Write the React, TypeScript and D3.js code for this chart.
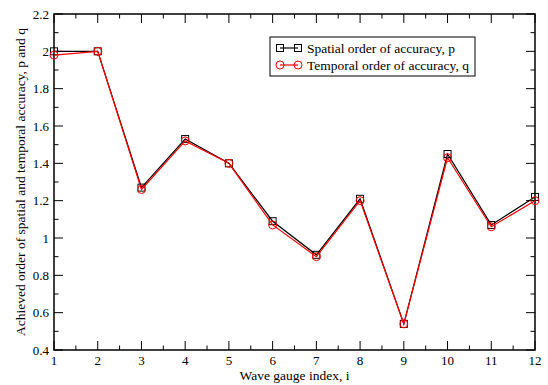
import { useEffect, useRef } from 'react';
import * as d3 from 'd3';

const GAUGES = [1, 2, 3, 4, 5, 6, 7, 8, 9, 10, 11, 12];
const SPATIAL_P = [2.0, 2.0, 1.27, 1.53, 1.40, 1.09, 0.91, 1.21, 0.54, 1.45, 1.07, 1.22];
const TEMPORAL_Q = [1.98, 2.0, 1.26, 1.52, 1.40, 1.07, 0.90, 1.20, 0.54, 1.43, 1.06, 1.20];
const Y_TICKS = [0.4, 0.6, 0.8, 1, 1.2, 1.4, 1.6, 1.8, 2, 2.2];

const W = 548;
const H = 385;
const M = { left: 54, top: 14, right: 13, bottom: 35 };
const FONT = 'Liberation Serif, Times New Roman, serif';

export default function App() {
  const svgRef = useRef<SVGSVGElement>(null);

  useEffect(() => {
    if (!svgRef.current) return;
    const svg = d3.select(svgRef.current);
    svg.selectAll('*').remove();

    const x = d3.scaleLinear().domain([1, 12]).range([M.left, W - M.right]);
    const y = d3.scaleLinear().domain([0.4, 2.2]).range([H - M.bottom, M.top]);
    const [x0, x1] = x.range();
    const [y0, y1] = y.range();

    const g = svg.append('g').style('font-family', FONT);

    // inward ticks on all four sides
    const majX = d3.range(1, 12.01, 1);
    const minX = d3.range(1.5, 12, 1);
    const majY = Y_TICKS;
    const minY = d3.range(0.5, 2.2, 0.2);
    const ticks = g.append('g').attr('stroke', '#000').attr('stroke-width', 1);
    const tx = (v: number, len: number) => {
      ticks.append('line').attr('x1', x(v)).attr('x2', x(v)).attr('y1', y0).attr('y2', y0 - len);
      ticks.append('line').attr('x1', x(v)).attr('x2', x(v)).attr('y1', y1).attr('y2', y1 + len);
    };
    const ty = (v: number, len: number) => {
      ticks.append('line').attr('y1', y(v)).attr('y2', y(v)).attr('x1', x0).attr('x2', x0 + len);
      ticks.append('line').attr('y1', y(v)).attr('y2', y(v)).attr('x1', x1).attr('x2', x1 - len);
    };
    majX.forEach(v => tx(v, 9));
    minX.forEach(v => tx(v, 4.5));
    majY.forEach(v => ty(v, 9));
    minY.forEach(v => ty(v, 4.5));

    g.append('rect')
      .attr('x', x0).attr('y', y1)
      .attr('width', x1 - x0).attr('height', y0 - y1)
      .attr('fill', 'none').attr('stroke', '#000').attr('stroke-width', 1.5);

    // tick labels
    g.append('g').selectAll('text').data(majX).join('text')
      .attr('x', d => x(d)).attr('y', y0 + 14.5)
      .attr('text-anchor', 'middle')
      .attr('font-size', 13)
      .text(d => d3.format('d')(d));

    g.append('g').selectAll('text').data(majY).join('text')
      .attr('x', x0 - 5).attr('y', d => y(d) + 4.7)
      .attr('text-anchor', 'end')
      .attr('font-size', 13)
      .text(d => String(+d.toFixed(1)));

    // axis titles
    g.append('text')
      .attr('x', (x0 + x1) / 2).attr('y', H - 5)
      .attr('text-anchor', 'middle')
      .attr('font-size', 13.5)
      .text('Wave gauge index, i');

    g.append('text')
      .attr('transform', `translate(25,${(y0 + y1) / 2}) rotate(-90)`)
      .attr('text-anchor', 'middle')
      .attr('font-size', 13.5)
      .text('Achieved order of spatial and temporal accuracy, p and q');

    const line = d3.line<number>().x((_, i) => x(GAUGES[i])).y(d => y(d));

    const series = [
      { values: SPATIAL_P, color: '#000', shape: 'square', label: 'Spatial order of accuracy, p' },
      { values: TEMPORAL_Q, color: '#ff0000', shape: 'circle', label: 'Temporal order of accuracy, q' },
    ];

    const marker = (sel: d3.Selection<SVGGElement, unknown, null, undefined>, cx: number, cy: number, shape: string, color: string) => {
      if (shape === 'square') {
        sel.append('rect').attr('x', cx - 3.5).attr('y', cy - 3.5).attr('width', 7).attr('height', 7)
          .attr('fill', 'none').attr('stroke', color).attr('stroke-width', 1);
      } else {
        sel.append('circle').attr('cx', cx).attr('cy', cy).attr('r', 4)
          .attr('fill', 'none').attr('stroke', color).attr('stroke-width', 1);
      }
    };

    series.forEach(s => {
      const sg = g.append('g');
      sg.append('path').attr('d', line(s.values)).attr('fill', 'none')
        .attr('stroke', s.color).attr('stroke-width', 1.2);
      s.values.forEach((v, i) => marker(sg, x(GAUGES[i]), y(v), s.shape, s.color));
    });

    // legend
    const lg = g.append('g').attr('transform', 'translate(270,37)');
    lg.append('rect').attr('width', 205).attr('height', 39)
      .attr('fill', '#fff').attr('stroke', '#000').attr('stroke-width', 1);
    series.forEach((s, i) => {
      const ly = 11 + i * 17;
      const row = lg.append('g');
      row.append('line').attr('x1', 10).attr('x2', 28).attr('y1', ly).attr('y2', ly)
        .attr('stroke', s.color).attr('stroke-width', 1.2);
      marker(row, 10, ly, s.shape, s.color);
      marker(row, 28, ly, s.shape, s.color);
      row.append('text').attr('x', 37).attr('y', ly + 4.7)
        .attr('font-size', 13.5)
        .text(s.label);
    });
  }, []);

  return <svg ref={svgRef} width={W} height={H} style={{ display: 'block', position: 'absolute', left: 0, top: 0 }} />;
}
